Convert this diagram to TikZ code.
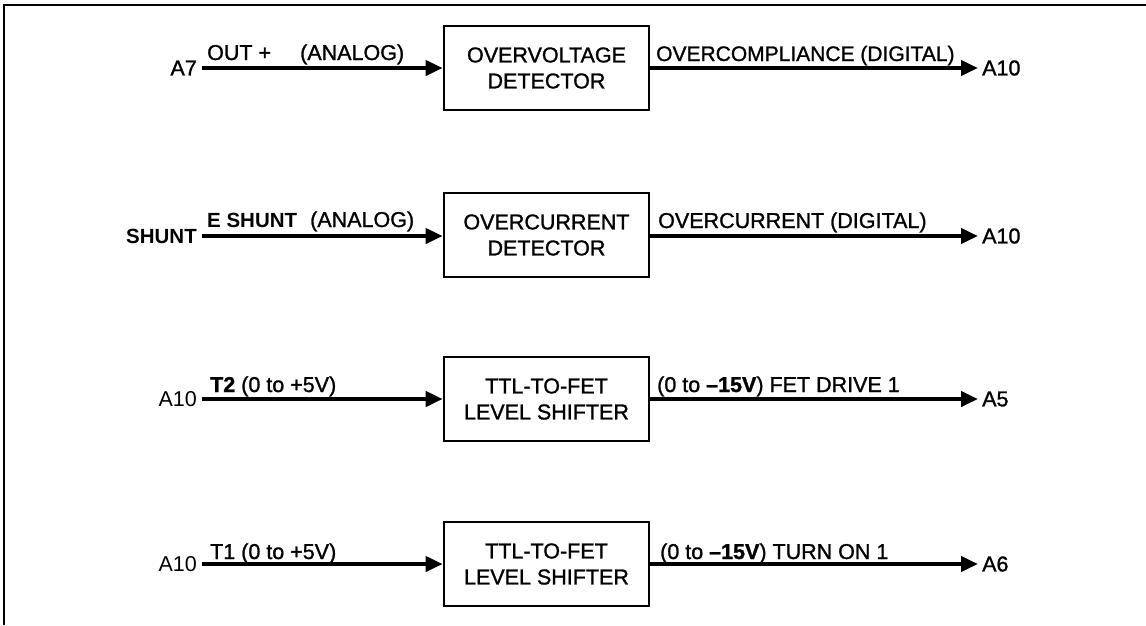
\documentclass[tikz,border=0pt]{standalone}
\usepackage{fontspec}
\setmainfont{Liberation Sans}
\newfontfamily\medfont{Liberation Sans}[FakeBold=1.2]
\usetikzlibrary{arrows.meta}
\begin{document}
\begin{tikzpicture}[x=1pt,y=-1pt,
  font=\medfont\fontsize{21.5}{26}\selectfont,
  blk/.style={draw,line width=2.6pt,minimum width=205pt,minimum height=84pt,align=center,inner sep=0pt},
  term/.style={inner ysep=0pt,inner xsep=5pt},
  sig/.style={line width=4pt,-{Triangle[length=17pt,width=15pt]}},
  lbl/.style={anchor=base west,inner sep=0pt}]
\useasboundingbox (0,0) rectangle (1146,625);
% frame
\draw[line width=2pt] (4,625) -- (4,5) -- (1146,5);
% boxes
\node[blk] (b1) at (546.5,68) {OVERVOLTAGE\\DETECTOR};
\node[blk] (b2) at (546.5,235) {OVERCURRENT\\DETECTOR};
\node[blk] (b3) at (546.5,399) {TTL-TO-FET\\LEVEL SHIFTER};
\node[blk] (b4) at (546.5,564) {TTL-TO-FET\\LEVEL SHIFTER};
% left terminals
\node[term,anchor=east] (l1) at (202,68) {A7};
\node[term,anchor=east,font=\rmfamily\fontsize{20.5}{24}\selectfont\bfseries] (l2) at (202,236) {SHUNT};
\node[term,anchor=east,font=\rmfamily\fontsize{21.5}{26}\selectfont] (l3) at (202,399) {A10};
\node[term,anchor=east,font=\rmfamily\fontsize{21.5}{26}\selectfont] (l4) at (202,564) {A10};
% right terminals
\node[term,anchor=west,inner xsep=4pt] (r1) at (978,68) {A10};
\node[term,anchor=west,inner xsep=4pt] (r2) at (978,236) {A10};
\node[term,anchor=west,inner xsep=4pt] (r3) at (978,399) {A5};
\node[term,anchor=west,inner xsep=4pt] (r4) at (978,564) {A6};
% connectors
\draw[sig] (l1.east) -- (l1.east -| b1.west);
\draw[sig] (l2.east) -- (l2.east -| b2.west);
\draw[sig] (l3.east) -- (l3.east -| b3.west);
\draw[sig] (l4.east) -- (l4.east -| b4.west);
\draw[sig] (r1.west -| b1.east) -- (r1.west);
\draw[sig] (r2.west -| b2.east) -- (r2.west);
\draw[sig] (r3.west -| b3.east) -- (r3.west);
\draw[sig] (r4.west -| b4.east) -- (r4.west);
% signal labels
\node[lbl] (t1a) at (207,60) {OUT +};
\node[lbl] (t1b) at (300,60) {(ANALOG)};
\node[lbl,font=\medfont\fontsize{21}{26}\selectfont] (t1c) at (656,61) {OVERCOMPLIANCE (DIGITAL)};
\node[lbl,font=\rmfamily\fontsize{20.5}{24}\selectfont\bfseries] (t2a) at (207,227) {E SHUNT};
\node[lbl] (t2b) at (310,227) {(ANALOG)};
\node[lbl] (t2c) at (658,228) {OVERCURRENT (DIGITAL)};
\node[lbl] (t3a) at (210,392) {\textbf{T2} (0 to +5V)};
\node[lbl] (t3c) at (657,392) {(0 to \textbf{\textendash15V}) FET DRIVE 1};
\node[lbl] (t4a) at (210,559) {T1 (0 to +5V)};
\node[lbl] (t4c) at (660,559) {(0 to \textbf{\textendash15V}) TURN ON 1};
\end{tikzpicture}
\end{document}
